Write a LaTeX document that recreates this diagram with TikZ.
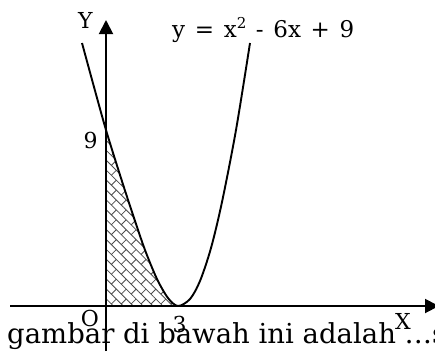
\documentclass[tikz,border=0pt]{standalone}
\usepackage{fontspec}
\setmainfont{DejaVu Serif}
\usepackage{tikz}
\usetikzlibrary{arrows.meta,patterns.meta}

% diagonal brick hatch for the shaded area
\tikzdeclarepattern{
    name=zigbricks,
    type=uncolored,
    bounding box={(-.5pt,-.5pt) and (14.5pt,14.5pt)},
    tile size={(14pt,14pt)},
    tile transformation={rotate=-45},
    code={
        \draw[line width=.8pt] (0,0) -- (14pt,0) (0,7pt) -- (14pt,7pt)
            (3.5pt,0) -- (3.5pt,7pt) (10.5pt,7pt) -- (10.5pt,14pt);
    }
}

\begin{document}
\begin{tikzpicture}[
    x=1pt, y=-1pt,
    font=\fontsize{22}{26}\selectfont,
    axis/.style={line width=1.9pt, -{Triangle[length=14pt,width=14pt]}},
    curve/.style={line width=1.9pt},
    lbl/.style={inner sep=0pt}
]
\useasboundingbox (0,0) rectangle (435,351);
\clip (0,0) rectangle (435,351);

% Caption line under the axes
\node[lbl, anchor=base west, font=\fontsize{27.5}{30}\selectfont] (caption) at (7,343) {gambar di bawah ini adalah …s};

% Hatched area
\fill[pattern=zigbricks, pattern color=black!70] (106,306) -- plot[smooth] coordinates {
    (106,130) (120,175) (133,215) (145,250) (157,279) (168,298) (178,306)} -- cycle;

% Axes
\coordinate (xbeg) at (10,306);
\coordinate (xend) at (439,306);
\coordinate (ybeg) at (106,351);
\coordinate (yend) at (106,20);
\draw[axis] (xbeg) -- (xend);
\draw[axis] (ybeg) -- (yend);

% Parabola
\draw[curve] plot[smooth] coordinates {
    (82,43) (94,87) (106,130) (120,175) (133,215) (145,250) (157,279) (168,298)
    (178,306) (190,299) (200,281) (211,248) (222,202) (236,130) (250,43)};

% Labels
\node[lbl] (ylab) at (85.5,20) {Y};
\node[lbl] (nine) at (90.5,140.5) {9};
\node[lbl] (orig) at (90,318.5) {O};
\node[lbl] (three) at (179.5,324) {3};
\node[lbl] (xlab) at (403,321.5) {X};
\node[lbl, anchor=base west, font=\fontsize{23}{26}\selectfont] (eqn) at (172,37)
    {\spaceskip=.42em\relax y = x\raisebox{.38em}{\fontsize{15}{15}\selectfont 2} - 6x + 9};

\end{tikzpicture}
\end{document}
